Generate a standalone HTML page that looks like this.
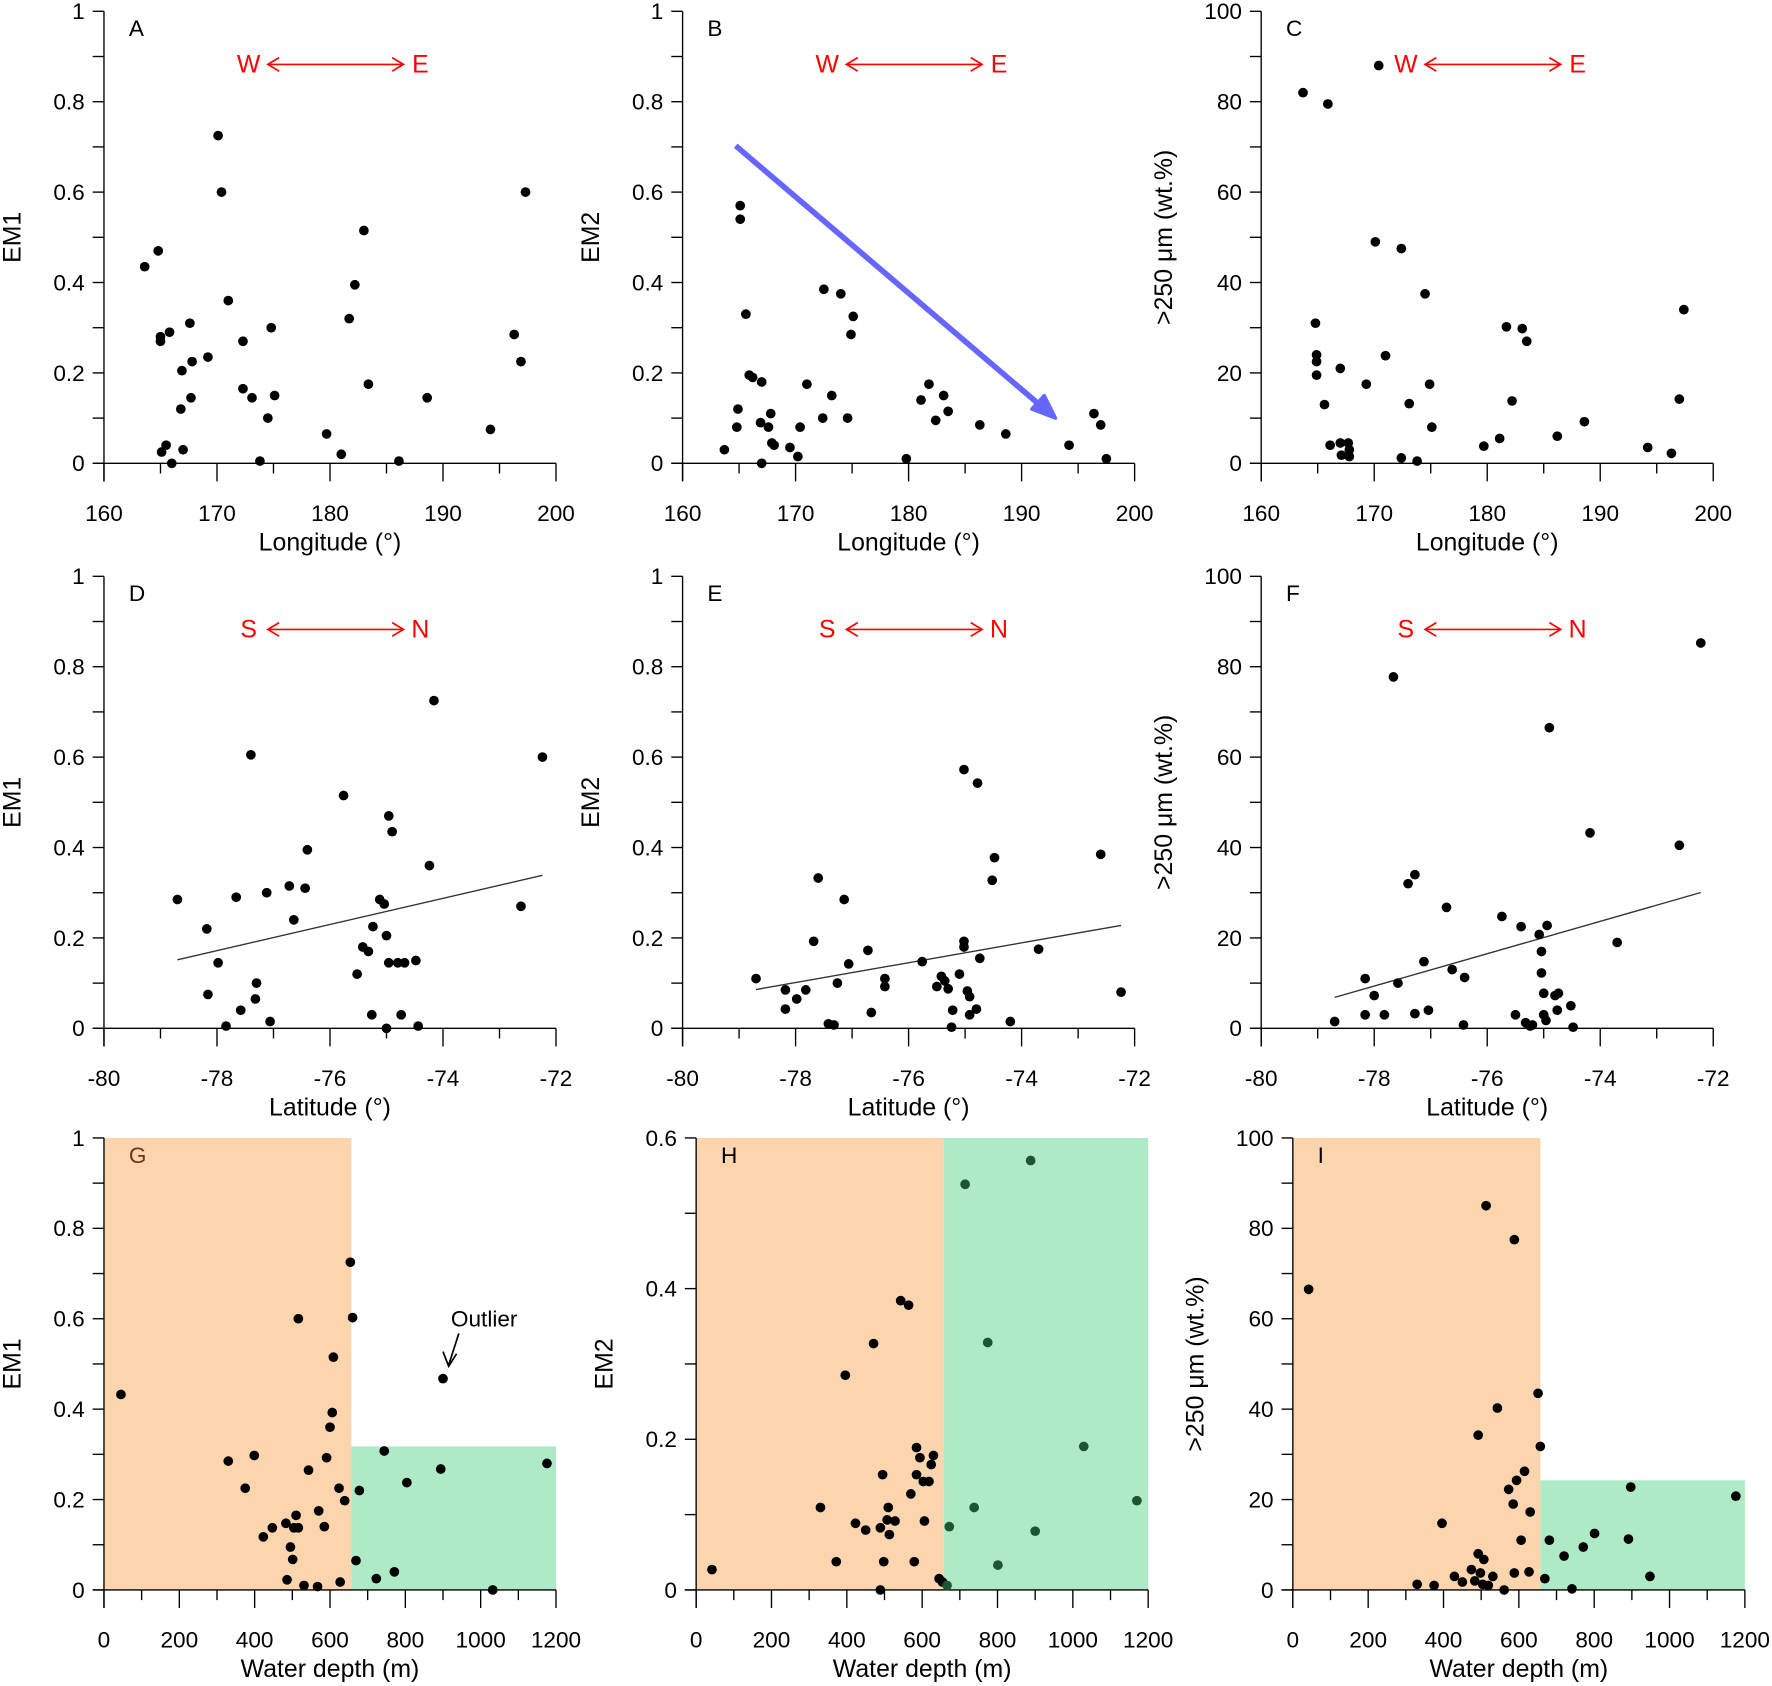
<!DOCTYPE html>
<html><head><meta charset="utf-8"><style>
html,body{margin:0;padding:0;background:#fff;}
svg{display:block;font-family:"Liberation Sans",Arial,sans-serif;}
</style></head><body>
<svg id="chart" width="1772" height="1686" viewBox="0 0 1568 1492" preserveAspectRatio="none" xmlns="http://www.w3.org/2000/svg"></svg>
<script>
// ---- data ----
const lonA=[163.6,164.8,165,165,165.8,165.1,165.5,166,166.9,166.8,167,167.6,167.8,167.7,169.2,170.1,170.4,171,172.3,172.3,173.1,173.8,174.5,174.8,175.1,179.7,181,181.7,182.2,183,183.4,186.1,188.6,194.2,196.3,196.9,197.3];
const em1A=[0.435,0.47,0.28,0.27,0.29,0.025,0.04,0.0,0.205,0.12,0.03,0.31,0.225,0.145,0.235,0.725,0.6,0.36,0.27,0.165,0.145,0.005,0.1,0.3,0.15,0.065,0.02,0.32,0.395,0.515,0.175,0.005,0.145,0.075,0.285,0.225,0.6];
const lonB=[163.7,165.1,165.1,164.9,164.8,165.6,165.9,166.2,167,166.9,167,167.8,167.6,167.9,168.1,169.5,170.2,170.4,171,172.5,172.4,173.2,174,174.6,175.1,174.9,179.8,181.1,181.8,182.4,183.1,183.5,186.3,188.6,194.2,196.4,197,197.5];
const em2B=[0.03,0.57,0.54,0.12,0.08,0.33,0.195,0.19,0.18,0.09,0.0,0.11,0.08,0.045,0.04,0.035,0.015,0.08,0.175,0.385,0.1,0.15,0.375,0.1,0.325,0.285,0.01,0.14,0.175,0.095,0.15,0.115,0.085,0.065,0.04,0.11,0.085,0.01];
const lonC=[163.7,165.9,170.4,164.8,164.9,164.9,164.9,165.6,166.1,167,167,167.1,167.7,167.8,167.8,169.3,170.1,171,172.4,172.4,173.1,173.8,174.5,174.9,175.1,179.7,181.1,181.7,182.2,183.1,183.5,186.2,188.6,194.2,196.3,197,197.4];
const coarseC=[82,79.5,88,31,24,22.5,19.5,13,4,21,4.5,1.8,4.5,3,1.5,17.5,49,23.8,47.5,1.2,13.2,0.5,37.5,17.5,8,3.8,5.5,30.2,13.8,29.8,27,6,9.2,3.5,2.2,14.2,34];
const latD=[-78.7,-78.18,-77.98,-78.16,-77.84,-77.66,-77.58,-77.4,-77.3,-77.32,-77.12,-77.06,-76.72,-76.64,-76.44,-76.4,-75.76,-75.52,-75.42,-75.32,-75.26,-75.24,-75.12,-75.04,-75.0,-74.96,-74.9,-74.96,-75,-74.8,-74.74,-74.68,-74.48,-74.44,-74.24,-74.16,-72.62,-72.24];
const em1D=[0.285,0.22,0.145,0.075,0.005,0.29,0.04,0.605,0.1,0.065,0.3,0.015,0.315,0.24,0.31,0.395,0.515,0.12,0.18,0.17,0.03,0.225,0.285,0.275,0.205,0.47,0.435,0.145,0.0,0.145,0.03,0.145,0.15,0.005,0.36,0.725,0.27,0.6];
const latE=[-78.7,-78.18,-78.18,-77.98,-77.82,-77.6,-77.68,-77.42,-77.32,-77.26,-77.14,-77.06,-76.72,-76.66,-76.42,-76.42,-75.76,-75.5,-75.42,-75.36,-75.3,-75.24,-75.22,-75.1,-75.02,-75.02,-75.02,-74.96,-74.92,-74.92,-74.78,-74.8,-74.74,-74.48,-74.52,-74.2,-73.7,-72.6,-72.24];
const em2E=[0.11,0.085,0.0425,0.065,0.085,0.3325,0.1925,0.01,0.0075,0.1,0.285,0.1425,0.1725,0.035,0.11,0.0925,0.1475,0.0925,0.115,0.105,0.0875,0.0025,0.04,0.12,0.5725,0.1925,0.18,0.0825,0.07,0.03,0.5425,0.0425,0.155,0.3775,0.3275,0.015,0.175,0.385,0.08];
const latF=[-78.7,-78.16,-78,-78.16,-77.82,-77.66,-77.58,-77.4,-77.28,-77.28,-77.12,-77.04,-76.72,-76.62,-76.4,-76.42,-75.74,-75.5,-75.4,-75.32,-75.24,-75.2,-75.08,-75.04,-75.04,-75,-75,-74.94,-74.9,-74.96,-74.8,-74.74,-74.76,-74.52,-74.48,-74.18,-73.7,-72.6,-72.22];
const coarseF=[1.5,11,7.25,3,3,77.75,10,32,34,3.25,14.75,4,26.75,13,11.25,0.75,24.75,3,22.5,1.25,0.5,0.75,20.75,17,12.25,7.75,3,22.75,66.5,1.75,7.25,7.75,4,5,0.25,43.25,19,40.5,85.25];
const depthG=[45,330,399,375,423,447,483,486,495,501,504,510,516,516,531,543,567,570,585,591,600,606,609,624,627,639,654,660,669,678,723,744,771,804,894,900,1032,1176];
const em1G=[0.4325,0.285,0.2975,0.225,0.1175,0.1375,0.1475,0.0225,0.095,0.0675,0.1375,0.165,0.6,0.1375,0.01,0.265,0.0075,0.175,0.14,0.2925,0.36,0.3925,0.515,0.225,0.0175,0.1975,0.725,0.6025,0.065,0.22,0.025,0.3075,0.04,0.2375,0.2675,0.4675,0.0,0.28];
const depthH=[42,330,372,396,423,450,471,489,489,495,498,507,510,513,528,543,564,570,579,585,585,594,603,606,618,624,630,645,654,666,672,714,738,774,801,888,900,1029,1170];
const em2H=[0.027,0.1095,0.0375,0.285,0.0885,0.0795,0.327,0.0825,0.0,0.153,0.0375,0.093,0.1095,0.0735,0.0915,0.384,0.378,0.1275,0.0375,0.153,0.189,0.1755,0.144,0.0915,0.144,0.1665,0.1785,0.015,0.0105,0.006,0.084,0.5385,0.1095,0.3285,0.033,0.57,0.078,0.1905,0.1185];
const depthI=[42,330,375,396,429,450,474,483,492,492,498,504,507,513,519,531,543,561,573,585,588,588,594,606,615,630,627,651,657,669,681,720,741,771,801,891,897,948,1176];
const coarseI=[66.5,1.25,1,14.75,3,1.75,4.5,2,34.25,8,3.75,1.25,6.75,85,1,3,40.25,0,22.25,19,77.5,3.75,24.25,11,26.25,17.25,4,43.5,31.75,2.5,11,7.5,0.25,9.5,12.5,11.25,22.75,3,20.75];
const lonTicks=[160,170,180,190,200];
const latTicks=[-80,-78,-76,-74,-72];
const depthTicks=[0,200,400,600,800,1000,1200];
const emTicks=[0,0.2,0.4,0.6,0.8,1];
const em2HTicks=[0,0.2,0.4,0.6];
const pctTicks=[0,20,40,60,80,100];

const NS="http://www.w3.org/2000/svg";
const svg=document.getElementById('chart');
function mk(tag,attrs,parent){const e=document.createElementNS(NS,tag);for(const k in attrs)e.setAttribute(k,attrs[k]);(parent||svg).appendChild(e);return e;}

function panel(o){
  const g=mk('g',{});
  
  
  const x0=o.left,x1=o.left+400,yb=o.bottom,yt=o.bottom-400;
  const xs=v=>x0+(v-o.xmin)/(o.xmax-o.xmin)*400;
  const ys=v=>yb-(v-o.ymin)/(o.ymax-o.ymin)*400;
  if(o.split!==undefined){
    const r1=mk('rect',{x:x0,y:yt,width:xs(o.split)-x0,height:400,fill:'#fcd5ae'},g);
    
    
    const gh=o.greenTop===null?400:yb-ys(o.greenTop);
    const r2=mk('rect',{x:xs(o.split),y:yb-gh,width:x1-xs(o.split),height:gh,fill:'#aeeac6'},g);
    
    
  }
  // axes
  mk('line',{x1:x0,y1:yt,x2:x0,y2:yb+16,stroke:'#000','stroke-width':1.2},g);
  mk('line',{x1:x0-10,y1:yb,x2:x1,y2:yb,stroke:'#000','stroke-width':1.2},g);
  // x ticks
  const xt=o.xticks, xstep=xt[1]-xt[0];
  for(let i=0;i<xt.length;i++){
    mk('line',{x1:xs(xt[i]),y1:yb,x2:xs(xt[i]),y2:yb+16,stroke:'#000','stroke-width':1.2},g);
    const t=mk('text',{x:xs(xt[i]),y:yb+51,'font-size':20,'text-anchor':'middle'},g);
    t.textContent=xt[i];
    
    
    if(i<xt.length-1){const m=xt[i]+xstep/2;mk('line',{x1:xs(m),y1:yb,x2:xs(m),y2:yb+9,stroke:'#000','stroke-width':1.2},g);}
  }
  const yt_=o.yticks, ystep=yt_[1]-yt_[0];
  for(let i=0;i<yt_.length;i++){
    mk('line',{x1:x0-10,y1:ys(yt_[i]),x2:x0,y2:ys(yt_[i]),stroke:'#000','stroke-width':1.2},g);
    const t=mk('text',{x:x0-17,y:ys(yt_[i])+7,'font-size':20,'text-anchor':'end'},g);
    t.textContent=String(yt_[i]);
    
    
    if(i<yt_.length-1){const m=yt_[i]+ystep/2;mk('line',{x1:x0-10,y1:ys(m),x2:x0,y2:ys(m),stroke:'#000','stroke-width':1.2},g);}
  }
  const xl=mk('text',{x:x0+200,y:yb+77,'font-size':22,'text-anchor':'middle'},g);
  xl.textContent=o.xlabel;
  
  
  const ylx=o.ylabelX, yly=yb-200;
  const yl=mk('text',{x:ylx,y:yly,'font-size':22,'text-anchor':'middle',transform:`rotate(-90 ${ylx} ${yly})`},g);
  yl.textContent=o.ylabel;
  
  
  const lt=mk('text',{x:x0+22,y:yt+22,'font-size':20,fill:o.letterColor||'#000'},g);
  lt.textContent=o.letter;
  
  
  if(o.dir){
    const dg=mk('g',{fill:'#f00',stroke:'none'},g);
    
    
    const a=mk('text',{x:x0+128,y:yt+54,'font-size':22,'text-anchor':'middle',fill:'#f00'},dg);a.textContent=o.dir[0];
    const b=mk('text',{x:x0+280,y:yt+54,'font-size':22,'text-anchor':'middle',fill:'#f00'},dg);b.textContent=o.dir[1];
    mk('line',{x1:x0+145,y1:yt+47,x2:x0+265,y2:yt+47,stroke:'#f00','stroke-width':1.5},dg);
    mk('polyline',{points:`${x0+155},${yt+41} ${x0+145},${yt+47} ${x0+155},${yt+53}`,fill:'none',stroke:'#f00','stroke-width':1.5},dg);
    mk('polyline',{points:`${x0+255},${yt+41} ${x0+265},${yt+47} ${x0+255},${yt+53}`,fill:'none',stroke:'#f00','stroke-width':1.5},dg);
  }
  if(o.trend){
    const xv=o.xs,yv=o.ys,n=xv.length;
    let mx=0,my=0;for(let i=0;i<n;i++){mx+=xv[i];my+=yv[i];}mx/=n;my/=n;
    let sxy=0,sxx=0;for(let i=0;i<n;i++){sxy+=(xv[i]-mx)*(yv[i]-my);sxx+=(xv[i]-mx)**2;}
    const sl=sxy/sxx,ic=my-sl*mx;
    const a=Math.min(...xv),b=Math.max(...xv);
    const tl=mk('line',{x1:xs(a),y1:ys(ic+sl*a),x2:xs(b),y2:ys(ic+sl*b),stroke:'#333','stroke-width':1.2},g);
    
    
  }
  for(let i=0;i<o.xs.length;i++){
    const col=(o.greenDots&&o.xs[i]>o.split)?'#1d5530':'#000';
    const c=mk('circle',{cx:xs(o.xs[i]),cy:ys(o.ys[i]),r:4.3,fill:col},g);
    
    
  }
  return {g,xs,ys};
}

const em='EM1', pct='>250 μm (wt.%)';
const pB=panel({letter:'A',left:92,bottom:410,xmin:160,xmax:200,ymin:0,ymax:1,xticks:lonTicks,yticks:emTicks,xlabel:'Longitude (°)',ylabel:'EM1',ylabelX:18,xs:lonA,ys:em1A,dir:['W','E']});
const pBB=panel({letter:'B',left:604,bottom:410,xmin:160,xmax:200,ymin:0,ymax:1,xticks:lonTicks,yticks:emTicks,xlabel:'Longitude (°)',ylabel:'EM2',ylabelX:530,xs:lonB,ys:em2B,dir:['W','E']});
panel({letter:'C',left:1116,bottom:410,xmin:160,xmax:200,ymin:0,ymax:100,xticks:lonTicks,yticks:pctTicks,xlabel:'Longitude (°)',ylabel:pct,ylabelX:1037,xs:lonC,ys:coarseC,dir:['W','E']});
panel({letter:'D',left:92,bottom:910,xmin:-80,xmax:-72,ymin:0,ymax:1,xticks:latTicks,yticks:emTicks,xlabel:'Latitude (°)',ylabel:'EM1',ylabelX:18,xs:latD,ys:em1D,dir:['S','N'],trend:true});
panel({letter:'E',left:604,bottom:910,xmin:-80,xmax:-72,ymin:0,ymax:1,xticks:latTicks,yticks:emTicks,xlabel:'Latitude (°)',ylabel:'EM2',ylabelX:530,xs:latE,ys:em2E,dir:['S','N'],trend:true});
panel({letter:'F',left:1116,bottom:910,xmin:-80,xmax:-72,ymin:0,ymax:100,xticks:latTicks,yticks:pctTicks,xlabel:'Latitude (°)',ylabel:pct,ylabelX:1037,xs:latF,ys:coarseF,dir:['S','N'],trend:true});
const pG=panel({letter:'G',letterColor:'#6b3a10',left:92,bottom:1407,xmin:0,xmax:1200,ymin:0,ymax:1,xticks:depthTicks,yticks:emTicks,xlabel:'Water depth (m)',ylabel:'EM1',ylabelX:18,xs:depthG,ys:em1G,split:657,greenTop:0.3175});
panel({letter:'H',left:616,bottom:1407,xmin:0,xmax:1200,ymin:0,ymax:0.6,xticks:depthTicks,yticks:em2HTicks,xlabel:'Water depth (m)',ylabel:'EM2',ylabelX:542,xs:depthH,ys:em2H,split:657,greenTop:null,greenDots:true});
panel({letter:'I',left:1144,bottom:1407,xmin:0,xmax:1200,ymin:0,ymax:100,xticks:depthTicks,yticks:pctTicks,xlabel:'Water depth (m)',ylabel:pct,ylabelX:1065,xs:depthI,ys:coarseI,split:657,greenTop:24.25});

// blue trend arrow in B
const ab=mk('g',{});


mk('line',{x1:651,y1:129,x2:922,y2:360,stroke:'#6666ff','stroke-width':5},ab);
mk('polygon',{points:'934,370 913,362 924,350',fill:'#6666ff',stroke:'#6666ff','stroke-width':3,'stroke-linejoin':'round'},ab);
// outlier annotation in G
const og=mk('g',{});


const ot=mk('text',{x:399,y:1174,'font-size':20},og);ot.textContent='Outlier';
mk('line',{x1:406,y1:1180,x2:397,y2:1208,stroke:'#000','stroke-width':1.5},og);
mk('polyline',{points:'392,1196 397,1209 404,1198',fill:'none',stroke:'#000','stroke-width':1.5},og);
</script>
</body></html>
